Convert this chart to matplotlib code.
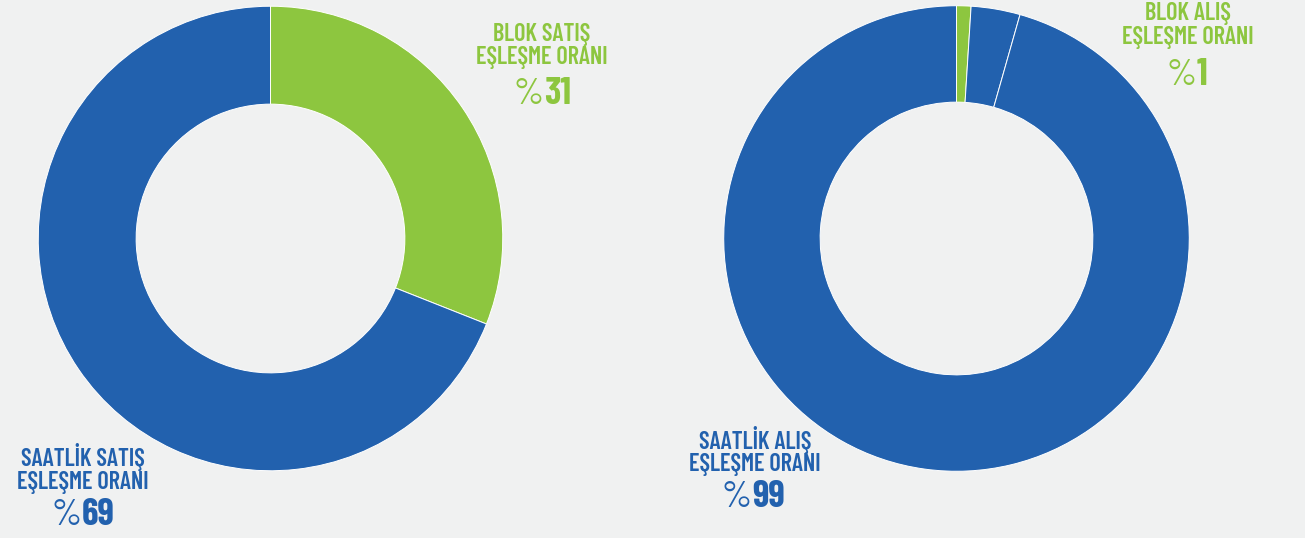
import matplotlib
matplotlib.use("Agg")
import matplotlib.pyplot as plt

# ---- data ----
left_labels = ["BLOK SATIŞ", "SAATLİK SATIŞ"]
left_values = [31, 69]
right_labels = ["BLOK ALIŞ", "SAATLİK ALIŞ"]
right_values = [1, 3.4, 95.6]   # blok alış, saatlik alış (two blue parts)
left_pct = ["31", "69"]
right_pct = ["1", "99"]
sub_label = "EŞLEŞME ORANI"

GREEN = "#8DC63F"
BLUE = "#2261AE"
BG = "#F0F1F1"

W, H = 1305, 538
fig = plt.figure(figsize=(W / 100, H / 100), dpi=100)
fig.patch.set_facecolor(BG)

FONT = ["Barlow Condensed", "Barlow", "DejaVu Sans"]
FONT_PCT = ["Barlow", "DejaVu Sans"]


def donut(cx, cy, r, rin, values, colors):
    ax = fig.add_axes([(cx - r) / W, (H - cy - r) / H, 2 * r / W, 2 * r / H])
    ax.pie(values, colors=colors, startangle=90, counterclock=False, radius=1,
           wedgeprops=dict(width=1 - rin / r, edgecolor="white", linewidth=0.7))
    ax.set_xlim(-1.001, 1.001)
    ax.set_ylim(-1.001, 1.001)
    ax.set_aspect("equal")
    ax.axis("off")
    return ax


donut(270.5, 238.5, 232.5, 134.5, left_values, [GREEN, BLUE])
donut(956.5, 238.5, 233, 136.5, right_values, [GREEN, BLUE, BLUE])


def label(x, b1, b2, b3, line1, pct, color, px_split):
    kw = dict(color=color, va="baseline")
    fig.text(x / W, 1 - b1 / H, line1, ha="center", fontsize=17.5,
             fontweight="semibold", family=FONT, fontstretch="condensed", **kw)
    fig.text(x / W, 1 - b2 / H, sub_label, ha="center", fontsize=17.5,
             fontweight="semibold", family=FONT, fontstretch="condensed", **kw)
    fig.text((px_split + 1) / W, 1 - b3 / H, "%", ha="right", fontsize=27,
             fontweight="normal", family=FONT_PCT, **kw)
    fig.text((px_split + 1) / W, 1 - b3 / H, pct, ha="left", fontsize=27,
             fontweight="bold", family=FONT, fontstretch="condensed", **kw)


label(542, 41, 64, 104, left_labels[0], left_pct[0], GREEN, 543)
label(83, 466, 489, 525, left_labels[1], left_pct[1], BLUE, 81)
label(1188, 20, 44, 85, right_labels[0], right_pct[0], GREEN, 1196)
label(755, 449, 471, 507, right_labels[1], right_pct[1], BLUE, 751)

fig.savefig("out.png", dpi=100, facecolor=BG)
